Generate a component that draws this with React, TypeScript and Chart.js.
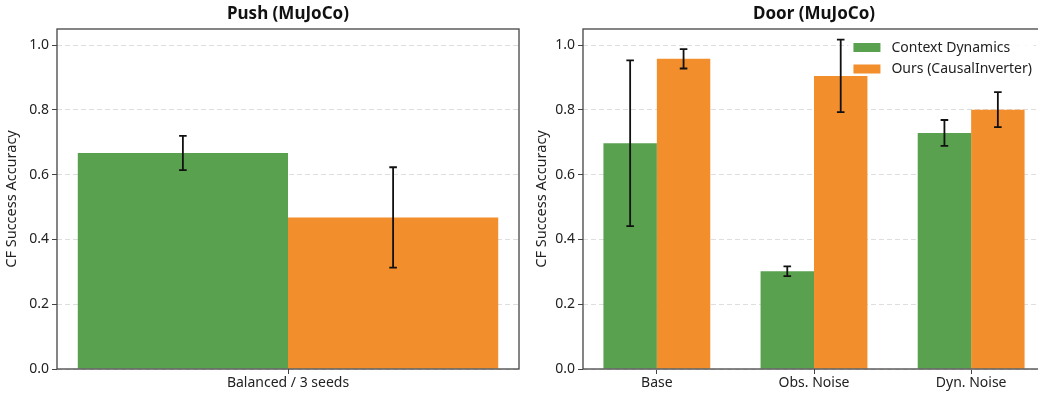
import React, { useEffect, useRef } from 'react';
import { Chart, registerables } from 'chart.js';

Chart.register(...registerables);

const FONT = '"Noto Sans", "Open Sans", "DejaVu Sans", sans-serif';

const seriesNames = ['Context Dynamics', 'Ours (CausalInverter)'];
const seriesColors = ['#59a14f', '#f28e2b'];

const pushTitle = 'Push (MuJoCo)';
const pushCategories = ['Balanced / 3 seeds'];
const pushContext = [0.667];
const pushContextErr = [0.053];
const pushOurs = [0.468];
const pushOursErr = [0.155];

const doorTitle = 'Door (MuJoCo)';
const doorCategories = ['Base', 'Obs. Noise', 'Dyn. Noise'];
const doorContext = [0.697, 0.302, 0.729];
const doorContextErr = [0.256, 0.015, 0.040];
const doorOurs = [0.958, 0.905, 0.801];
const doorOursErr = [0.030, 0.112, 0.054];

const yTicks = [0, 0.2, 0.4, 0.6, 0.8, 1.0];
const yMin = 0;
const yMax = 1.05;
const yTitle = 'CF Success Accuracy';

const TEXT = '#222';
const SPINE = '#444';

const panelPlugin = {
  id: 'panel',
  afterDatasetsDraw(chart: any) {
    const ctx = chart.ctx;
    const y = chart.scales.y;
    chart.data.datasets.forEach((ds: any, i: number) => {
      const meta = chart.getDatasetMeta(i);
      meta.data.forEach((el: any, j: number) => {
        const v = meta._parsed[j].y;
        const e = ds.errorBars[j];
        const top = y.getPixelForValue(v + e);
        const bot = y.getPixelForValue(v - e);
        ctx.save();
        ctx.strokeStyle = '#111';
        ctx.lineWidth = 1.8;
        ctx.beginPath();
        ctx.moveTo(el.x, top);
        ctx.lineTo(el.x, bot);
        ctx.moveTo(el.x - 3.8, top);
        ctx.lineTo(el.x + 3.8, top);
        ctx.moveTo(el.x - 3.8, bot);
        ctx.lineTo(el.x + 3.8, bot);
        ctx.stroke();
        ctx.restore();
      });
    });
  },
  afterDraw(chart: any, _args: any, opts: any) {
    const ctx = chart.ctx;
    const a = chart.chartArea;
    ctx.save();
    // spines
    ctx.strokeStyle = SPINE;
    ctx.lineWidth = 1.3;
    ctx.strokeRect(a.left, a.top, a.right - a.left, a.bottom - a.top);
    // title
    ctx.fillStyle = '#111';
    ctx.font = `bold 17px ${FONT}`;
    ctx.textAlign = 'center';
    ctx.textBaseline = 'middle';
    ctx.fillText(opts.title, (a.left + a.right) / 2, 14);
    // legend
    if (opts.legend) {
      ctx.font = `14px ${FONT}`;
      const labels = chart.data.datasets.map((d: any) => d.label);
      const maxW = Math.max(...labels.map((l: string) => ctx.measureText(l).width));
      const boxRight = a.right - 13;
      const textX = boxRight - maxW;
      const swX = textX - 11 - 27;
      const rowH = 21.5;
      const top0 = a.top + 14;
      ctx.fillStyle = 'rgba(255,255,255,0.85)';
      ctx.fillRect(swX - 5, top0 - 6, boxRight - swX + 7, rowH * (labels.length - 1) + 16.5);
      chart.data.datasets.forEach((d: any, i: number) => {
        const yy = top0 + i * rowH;
        ctx.fillStyle = d.backgroundColor;
        ctx.fillRect(swX, yy, 27, 9);
        ctx.fillStyle = TEXT;
        ctx.textAlign = 'left';
        ctx.textBaseline = 'middle';
        ctx.fillText(d.label, textX, yy + 5);
      });
    }
    ctx.restore();
  },
};

function yScale(width: number) {
  return {
    min: yMin,
    max: yMax,
    afterBuildTicks: (s: any) => {
      s.ticks = yTicks.map((v) => ({ value: v }));
    },
    afterFit: (s: any) => {
      s.width = width;
    },
    ticks: {
      callback: (v: any) => Number(v).toFixed(1),
      color: TEXT,
      font: { family: FONT, size: 14 },
      padding: 3,
    },
    grid: {
      color: '#dedede',
      lineWidth: 1,
      drawTicks: true,
      tickLength: 5,
      tickColor: SPINE,
      tickWidth: 1,
      tickBorderDash: [],
    },
    border: { display: false, dash: [5, 3] },
    title: {
      display: true,
      text: yTitle,
      color: TEXT,
      font: { family: FONT, size: 14.5 },
      padding: { top: 3, bottom: 4 },
    },
  };
}

const xCommon = {
  offset: false,
  afterFit: (s: any) => {
    s.height = 24;
  },
  ticks: {
    color: TEXT,
    font: { family: FONT, size: 14 },
    padding: 1,
    maxRotation: 0,
    minRotation: 0,
    autoSkip: false,
  },
  grid: {
    offset: false,
    drawOnChartArea: false,
    drawTicks: true,
    tickLength: 5,
    tickColor: SPINE,
    tickWidth: 1,
  },
  border: { display: false },
};

function pushConfig(): any {
  return {
    type: 'bar',
    data: {
      labels: pushCategories,
      datasets: [
        {
          label: seriesNames[0],
          data: pushContext,
          errorBars: pushContextErr,
          backgroundColor: seriesColors[0],
          borderWidth: 0,
          categoryPercentage: 0.91,
          barPercentage: 1,
        },
        {
          label: seriesNames[1],
          data: pushOurs,
          errorBars: pushOursErr,
          backgroundColor: seriesColors[1],
          borderWidth: 0,
          categoryPercentage: 0.91,
          barPercentage: 1,
        },
      ],
    },
    options: {
      responsive: false,
      animation: false,
      devicePixelRatio: 1,
      layout: { padding: { top: 29, right: 11, left: 0, bottom: 0 } },
      scales: {
        x: { ...xCommon, type: 'category', offset: true },
        y: yScale(57),
      },
      plugins: {
        legend: { display: false },
        tooltip: { enabled: false },
        panel: { title: pushTitle, legend: false },
      },
    },
    plugins: [panelPlugin],
  };
}

function doorConfig(): any {
  return {
    type: 'bar',
    data: {
      datasets: [
        {
          label: seriesNames[0],
          data: doorCategories.map((_, i) => ({ x: i, y: doorContext[i] })),
          errorBars: doorContextErr,
          backgroundColor: seriesColors[0],
          borderWidth: 0,
          categoryPercentage: 0.68,
          barPercentage: 1,
        },
        {
          label: seriesNames[1],
          data: doorCategories.map((_, i) => ({ x: i, y: doorOurs[i] })),
          errorBars: doorOursErr,
          backgroundColor: seriesColors[1],
          borderWidth: 0,
          categoryPercentage: 0.68,
          barPercentage: 1,
        },
      ],
    },
    options: {
      responsive: false,
      animation: false,
      devicePixelRatio: 1,
      layout: { padding: { top: 29, right: 15, left: 0, bottom: 0 } },
      scales: {
        x: {
          ...xCommon,
          type: 'linear',
          min: -0.47,
          max: doorCategories.length - 1 + 0.47,
          afterBuildTicks: (s: any) => {
            s.ticks = doorCategories.map((_, i) => ({ value: i }));
          },
          ticks: {
            ...xCommon.ticks,
            callback: (v: any) => doorCategories[Math.round(Number(v))] ?? '',
          },
        },
        y: yScale(53),
      },
      plugins: {
        legend: { display: false },
        tooltip: { enabled: false },
        panel: { title: doorTitle, legend: true },
      },
    },
    plugins: [panelPlugin],
  };
}

function Panel({ makeConfig, left, width }: { makeConfig: () => any; left: number; width: number }) {
  const ref = useRef<HTMLCanvasElement | null>(null);
  useEffect(() => {
    if (!ref.current) return;
    const chart = new Chart(ref.current, makeConfig());
    return () => chart.destroy();
  }, []);
  return (
    <canvas
      ref={ref}
      width={width}
      height={393}
      style={{ position: 'absolute', left, top: 0, width, height: 393 }}
    />
  );
}

export default function App() {
  return (
    <div
      style={{
        position: 'fixed',
        left: 0,
        top: 0,
        width: 1038,
        height: 393,
        overflow: 'hidden',
        background: '#fff',
      }}
    >
      <Panel makeConfig={pushConfig} left={0} width={530} />
      <Panel makeConfig={doorConfig} left={530} width={530} />
    </div>
  );
}
